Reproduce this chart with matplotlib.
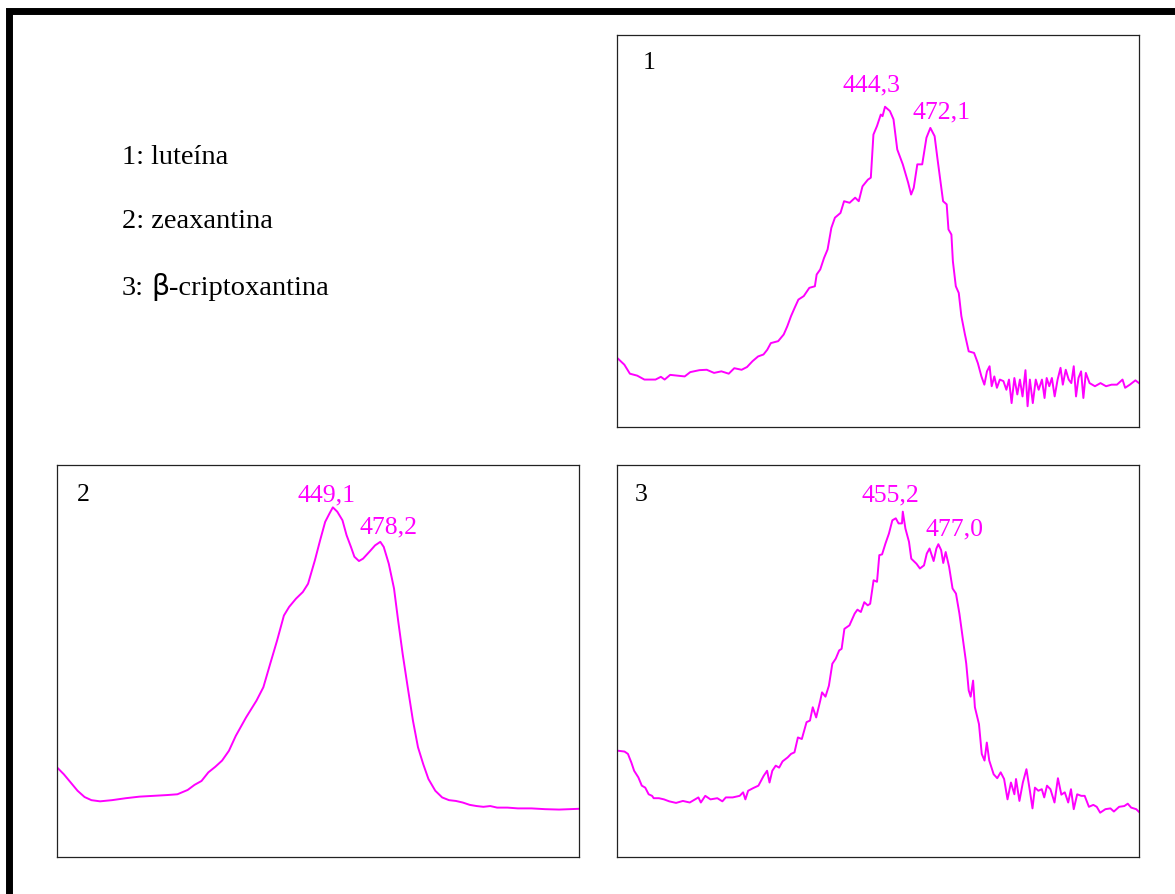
import matplotlib
matplotlib.use("Agg")
import matplotlib.pyplot as plt
from matplotlib.patches import Rectangle
from matplotlib.offsetbox import TextArea, HPacker, AnchoredOffsetbox

# ---------------- data ----------------
legend_names = ["luteína", "zeaxantina", "criptoxantina"]
panel_ids = ["1", "2", "3"]

# Panel 1: luteína
wl_1 = [280.7, 284.5, 287.9, 292.4, 296.8, 303.6, 306.9, 309.2, 312.6, 317.1, 321.5, 324.9,
        330.5, 335.0, 339.5, 344.0, 348.5, 351.9, 356.4, 359.7, 363.1, 366.5, 369.8, 372.1,
        374.3, 378.8, 382.2, 384.4, 386.7, 388.9, 391.2, 394.5, 397.9, 401.3, 402.4, 404.6,
        406.9, 409.1, 411.4, 413.6, 417.0, 419.2, 422.6, 426.0, 428.2, 430.5, 433.8, 435.6,
        437.2, 439.4, 441.7, 442.8, 444.3, 447.3, 449.5, 451.8, 455.2, 458.5, 460.3, 461.9,
        464.1, 467.1, 469.7, 472.1, 474.7, 476.5, 479.9, 482.1, 483.2, 485.0, 485.9, 487.7,
        489.5, 491.1, 493.3, 495.6, 498.9, 501.2, 503.4, 505.2, 506.8, 508.4, 509.7, 511.3,
        512.9, 514.7, 516.9, 518.7, 520.3, 521.9, 523.6, 525.4, 527.0, 528.6, 530.4, 531.7,
        533.1, 534.9, 536.7, 538.5, 540.5, 542.1, 543.4, 545.0, 546.6, 548.3, 550.1, 551.9,
        553.3, 555.1, 556.9, 558.5, 560.0, 561.4, 562.9, 564.5, 565.9, 567.4, 569.7, 573.0,
        576.4, 579.8, 583.2, 586.5, 589.9, 591.5, 594.4, 597.8, 600.0]
abs_1 = [17.4, 15.9, 13.6, 13.1, 12.1, 12.1, 12.8, 12.1, 13.3, 13.1, 12.9, 14.0,
         14.5, 14.6, 13.8, 14.2, 13.6, 15.0, 14.6, 15.3, 16.8, 18.0, 18.5, 19.7,
         21.4, 21.9, 23.6, 25.7, 28.3, 30.4, 32.5, 33.4, 35.5, 35.9, 38.9, 40.2,
         43.1, 45.3, 50.8, 53.4, 54.6, 57.6, 57.2, 58.5, 57.6, 61.4, 63.1, 63.6,
         74.6, 76.8, 79.7, 79.3, 81.7, 80.6, 78.5, 70.8, 67.0, 62.3, 59.3, 61.0,
         67.0, 67.0, 73.8, 76.3, 74.2, 68.3, 57.6, 56.8, 50.4, 49.1, 42.3, 35.9,
         34.2, 28.3, 23.6, 19.3, 18.9, 16.3, 12.9, 10.8, 14.2, 15.5, 10.4, 12.9,
         10.0, 12.1, 11.7, 9.5, 12.1, 6.1, 12.5, 8.3, 12.1, 7.8, 14.5, 5.3,
         12.1, 6.1, 12.1, 9.5, 12.1, 7.4, 12.5, 10.4, 12.5, 7.8, 12.1, 15.1,
         10.8, 14.6, 12.1, 11.2, 15.5, 7.8, 12.5, 14.2, 7.4, 13.8, 11.2, 10.4,
         11.2, 10.4, 10.8, 10.8, 12.1, 10.0, 10.8, 11.9, 11.2]

# Panel 2: zeaxantina
wl_2 = [280.4, 284.2, 288.4, 292.6, 296.9, 301.1, 306.4, 313.7, 322.2, 330.6, 339.0, 347.4,
        353.8, 360.1, 364.3, 368.6, 372.8, 377.0, 381.2, 385.4, 389.6, 395.9, 402.3, 406.5,
        410.7, 414.9, 419.1, 422.3, 426.5, 430.7, 433.9, 438.1, 441.3, 444.4, 447.0, 449.1,
        451.8, 455.0, 457.5, 460.2, 462.3, 465.1, 467.6, 471.8, 475.0, 478.2, 480.3, 483.4,
        486.6, 489.1, 491.9, 495.0, 498.2, 501.3, 504.5, 507.7, 511.9, 516.1, 520.3, 524.5,
        528.7, 533.0, 537.2, 541.4, 545.6, 549.8, 556.1, 562.5, 570.9, 579.3, 587.8, 594.1,
        600.0]
abs_2 = [22.7, 21.1, 19.0, 16.9, 15.3, 14.5, 14.2, 14.5, 15.0, 15.4, 15.6, 15.8,
         16.0, 17.1, 18.4, 19.4, 21.6, 23.0, 24.6, 27.1, 30.9, 35.6, 39.9, 43.3,
         49.3, 55.2, 61.6, 63.8, 65.9, 67.6, 69.7, 75.7, 80.8, 85.5, 87.6, 89.2,
         88.1, 85.9, 82.1, 79.1, 76.6, 75.5, 76.1, 78.0, 79.5, 80.4, 79.1, 74.8,
         68.5, 60.4, 51.8, 43.3, 34.8, 28.0, 23.7, 19.9, 16.9, 15.2, 14.5, 14.3,
         13.9, 13.3, 13.0, 12.8, 13.0, 12.6, 12.6, 12.4, 12.4, 12.2, 12.1, 12.2,
         12.3]

# Panel 3: beta-criptoxantina
wl_3 = [280.8, 284.6, 286.7, 288.8, 290.5, 293.1, 295.2, 297.3, 299.4, 301.5, 302.5, 305.7,
        308.8, 312.0, 316.2, 320.4, 324.6, 327.8, 329.9, 331.4, 334.1, 337.3, 341.5, 344.6,
        346.7, 350.9, 355.2, 357.3, 358.7, 360.4, 363.6, 366.7, 369.9, 372.0, 373.5, 375.2,
        377.3, 379.4, 381.5, 384.6, 386.7, 388.8, 390.9, 393.3, 396.2, 398.3, 400.0, 402.1,
        404.6, 405.7, 407.8, 409.9, 412.0, 414.1, 416.2, 417.7, 419.4, 422.5, 425.7, 427.4,
        429.5, 431.6, 433.7, 435.2, 437.3, 439.4, 440.8, 442.5, 444.6, 446.7, 448.8, 450.9,
        452.6, 454.7, 455.2, 456.8, 459.0, 460.4, 463.6, 465.7, 468.2, 469.9, 471.6, 474.1,
        475.8, 477.0, 478.7, 480.0, 481.5, 483.6, 485.7, 487.8, 489.9, 492.0, 494.1, 495.6,
        496.8, 498.3, 499.4, 501.9, 503.6, 505.3, 506.7, 508.2, 510.9, 513.1, 515.2, 517.3,
        519.4, 521.5, 523.6, 524.6, 526.7, 528.8, 531.0, 533.1, 534.7, 536.2, 538.3, 540.4,
        541.9, 543.6, 545.7, 548.2, 550.3, 552.4, 554.5, 556.6, 558.3, 560.0, 562.1, 564.6,
        566.7, 569.3, 572.0, 574.1, 576.2, 579.4, 582.5, 584.6, 587.8, 591.0, 593.1, 595.2,
        598.3, 600.0]
abs_3 = [27.1, 26.9, 26.3, 24.1, 22.0, 20.3, 18.2, 17.7, 16.0, 15.6, 15.0, 15.0,
         14.7, 14.2, 13.8, 14.3, 13.9, 14.7, 15.2, 13.9, 15.6, 14.7, 15.0, 14.2,
         15.2, 15.2, 15.6, 16.5, 14.7, 16.9, 17.6, 18.2, 20.7, 22.0, 19.0, 22.0,
         23.3, 22.8, 24.4, 25.4, 26.3, 26.7, 30.5, 30.1, 34.4, 34.8, 38.2, 35.6,
         39.9, 42.0, 40.9, 43.7, 49.3, 50.6, 52.7, 53.1, 58.2, 59.1, 62.1, 63.1,
         62.5, 65.0, 64.2, 64.6, 70.6, 70.2, 77.0, 77.2, 80.0, 82.5, 85.9, 86.4,
         85.1, 85.1, 88.1, 83.8, 80.4, 76.1, 74.8, 73.6, 74.4, 77.4, 78.7, 75.5,
         78.7, 79.8, 78.3, 75.0, 77.8, 74.0, 68.5, 67.2, 62.1, 55.7, 49.3, 42.5,
         40.9, 45.0, 38.2, 33.9, 26.3, 24.6, 29.2, 24.6, 21.1, 20.1, 21.6, 19.9,
         14.7, 19.0, 16.0, 19.9, 14.3, 19.0, 22.4, 16.9, 12.4, 17.7, 16.9, 17.3,
         15.2, 18.2, 17.3, 13.9, 20.1, 15.9, 16.5, 13.9, 17.3, 12.2, 16.0, 15.6,
         15.6, 12.8, 13.3, 12.8, 11.3, 12.2, 12.4, 11.6, 12.8, 13.0, 13.6, 12.6,
         12.2, 11.5]

peaks_1 = ["444,3", "472,1"]
peaks_2 = ["449,1", "478,2"]
peaks_3 = ["455,2", "477,0"]

# ---------------- figure ----------------
W, H = 1175, 895
fig = plt.figure(figsize=(W / 100, H / 100), dpi=100)
fig.patch.set_facecolor("white")

SERIF = ["Liberation Serif", "DejaVu Serif"]
MAG = "#FF00FF"

# thick frame around the figure (open to the right / bottom edges of the image)
fig.patches.append(Rectangle((9.0 / W, -0.2), 1.3, 1 - 11.5 / H + 0.2,
                             transform=fig.transFigure, fill=False,
                             edgecolor="black", linewidth=5.0))


def px_axes(left, top, right, bottom):
    return fig.add_axes([left / W, 1 - bottom / H, (right - left) / W, (bottom - top) / H])


panels = [
    (px_axes(617, 36, 1139, 428), wl_1, abs_1, panel_ids[0], peaks_1,
     (0.062, 0.930), [(0.488, 0.874), (0.622, 0.806)]),
    (px_axes(57, 466, 579, 858), wl_2, abs_2, panel_ids[1], peaks_2,
     (0.051, 0.926), [(0.517, 0.924), (0.636, 0.842)]),
    (px_axes(617, 466, 1139, 858), wl_3, abs_3, panel_ids[2], peaks_3,
     (0.047, 0.927), [(0.524, 0.924), (0.647, 0.837)]),
]

for ax, wl, ab, pid, plabels, pid_pos, ppos in panels:
    ax.plot(wl, ab, color=MAG, linewidth=1.4)
    ax.set_xlim(280, 600)
    ax.set_ylim(0, 100)
    ax.set_xticks([])
    ax.set_yticks([])
    for sp in ax.spines.values():
        sp.set_color("#222222")
        sp.set_linewidth(0.9)
    ax.text(pid_pos[0], pid_pos[1], pid, transform=ax.transAxes, ha="center", va="center",
            fontsize=18.5, family=SERIF, color="black")
    for lab, (tx, ty) in zip(plabels, ppos):
        ax.text(tx, ty, lab, transform=ax.transAxes, ha="center", va="center",
                fontsize=18.5, family=SERIF, color=MAG)

# legend text block
fs_leg = 20.5
leg_x = 122 / W
leg_y = [158, 222, 287]
fig.text(leg_x, 1 - leg_y[0] / H, f"{panel_ids[0]}: {legend_names[0]}", ha="left", va="center",
         fontsize=fs_leg, family=SERIF)
fig.text(leg_x, 1 - leg_y[1] / H, f"{panel_ids[1]}: {legend_names[1]}", ha="left", va="center",
         fontsize=fs_leg, family=SERIF)

parts = [TextArea(f"{panel_ids[2]}:", textprops=dict(fontsize=fs_leg, family=SERIF)),
         TextArea("β", textprops=dict(fontsize=fs_leg, family=["DejaVu Sans"])),
         TextArea("-" + legend_names[2], textprops=dict(fontsize=fs_leg, family=SERIF))]
row1 = HPacker(children=[parts[0]], pad=0, sep=0)
row2 = HPacker(children=[parts[1], parts[2]], pad=0, sep=0)
row = HPacker(children=[row1, row2], pad=0, sep=5)
ab = AnchoredOffsetbox(loc="center left", child=row, pad=0, borderpad=0, frameon=False,
                       bbox_to_anchor=(leg_x, 1 - leg_y[2] / H),
                       bbox_transform=fig.transFigure)
fig.add_artist(ab)

fig.savefig("out.png", dpi=100, facecolor="white")
